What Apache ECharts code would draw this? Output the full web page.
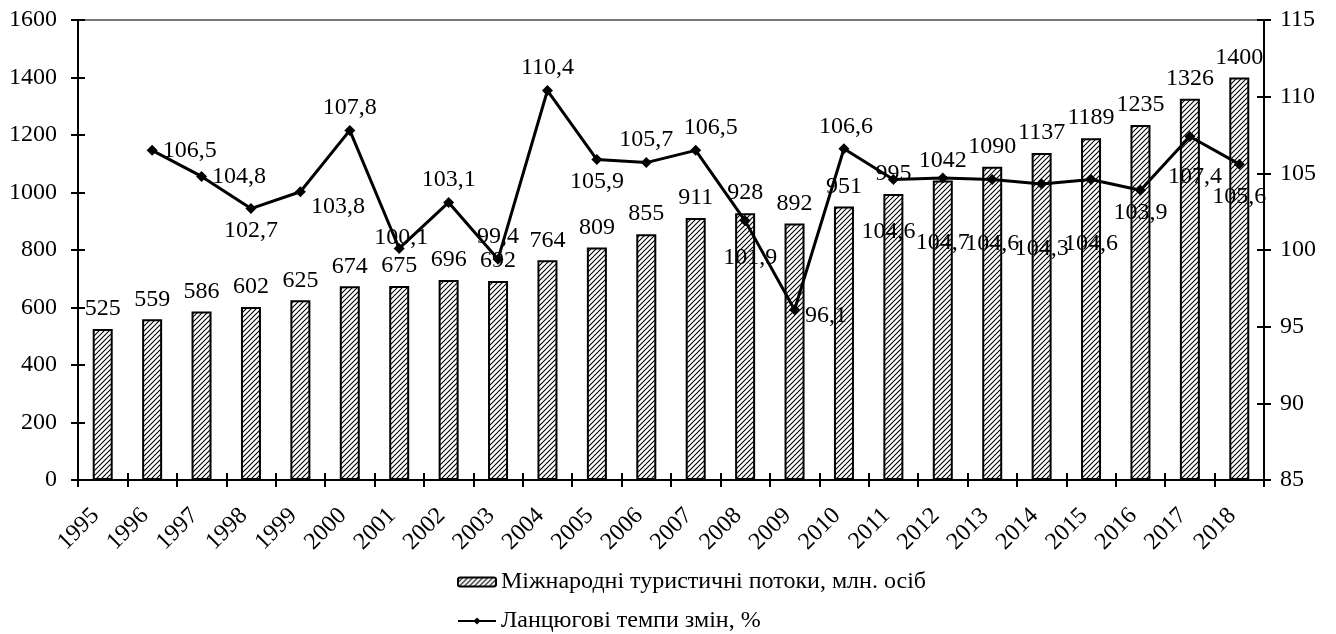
<!DOCTYPE html>
<html>
<head>
<meta charset="utf-8">
<script src="https://cdn.jsdelivr.net/npm/echarts@6/dist/echarts.min.js"></script>
<style>
  html, body { margin: 0; padding: 0; background: #fff; }
  #chart { width: 1336px; height: 634px; }
</style>
</head>
<body>
<div id="chart"></div>
<script>
const years = ['1995','1996','1997','1998','1999','2000','2001','2002','2003','2004','2005','2006',
  '2007','2008','2009','2010','2011','2012','2013','2014','2015','2016','2017','2018'];
const flows = [525, 559, 586, 602, 625, 674, 675, 696, 692, 764, 809, 855,
  911, 928, 892, 951, 995, 1042, 1090, 1137, 1189, 1235, 1326, 1400];
const chainRates = [null, 106.5, 104.8, 102.7, 103.8, 107.8, 100.1, 103.1, 99.4, 110.4, 105.9, 105.7,
  106.5, 101.9, 96.1, 106.6, 104.6, 104.7, 104.6, 104.3, 104.6, 103.9, 107.4, 105.6];
const leftTicks = { min: 0, max: 1600, interval: 200 };
const rightTicks = { min: 85, max: 115, interval: 5 };
const barName = 'Міжнародні туристичні потоки, млн. осіб';
const lineName = 'Ланцюгові темпи змін, %';

// where each rate label sits relative to its point (Excel put them by hand)
const rateLabelPlace = [null,
  ['right', [0, 0]], ['right', [0, 0]], ['bottom', [0, 0]], ['right', [0, 15]], ['top', [0, 0]],
  ['inside', [2, -11]], ['top', [0, 0]], ['top', [0, 0]], ['top', [0, 0]], ['bottom', [0, 0]],
  ['top', [0, 0]], ['top', [15, 0]], ['bottom', [5, 14]], ['right', [0, 6]], ['top', [2, 0]],
  ['bottom', [-5, 30]], ['bottom', [0, 42]], ['bottom', [0, 42]], ['bottom', [0, 42]],
  ['bottom', [0, 42]], ['bottom', [0, 0]], ['bottom', [5, 18]], ['bottom', [0, 10]]];

const FONT = 'Liberation Serif';
const FS = 24;

function hatch() {
  const s = 5;
  const c = document.createElement('canvas');
  c.width = s; c.height = s;
  const g = c.getContext('2d');
  g.fillStyle = '#fff';
  g.fillRect(0, 0, s, s);
  g.strokeStyle = '#000';
  g.lineWidth = 1.1;
  g.beginPath();
  g.moveTo(0, s); g.lineTo(s, 0);
  g.moveTo(-1, 1); g.lineTo(1, -1);
  g.moveTo(s - 1, s + 1); g.lineTo(s + 1, s - 1);
  g.stroke();
  return c;
}

const fmt = v => v.toFixed(1).replace('.', ',');

const lineData = chainRates.map((v, i) => {
  if (v == null) return '-';
  const p = rateLabelPlace[i];
  return { value: v, label: { position: p[0], offset: p[1] } };
});

const chart = echarts.init(document.getElementById('chart'));
const txt = { fontFamily: FONT, fontSize: FS, color: '#000' };

chart.setOption({
  animation: false,
  textStyle: { fontFamily: FONT },
  grid: { left: 78, right: 72, top: 20, bottom: 154 },
  legend: {
    orient: 'vertical',
    left: 457,
    top: 570,
    padding: 0,
    itemGap: 15,
    itemWidth: 38,
    itemHeight: 9,
    textStyle: { fontFamily: FONT, fontSize: FS, color: '#000', lineHeight: 24 },
    data: [barName, lineName]
  },
  xAxis: [
    {
      type: 'category', data: years, position: 'bottom',
      axisLine: { lineStyle: { color: '#000', width: 2 } },
      axisTick: { show: true, inside: false, length: 7, lineStyle: { color: '#000', width: 2 } },
      axisLabel: { ...txt, rotate: 45, margin: 25, interval: 0, padding: [0, 10, 0, 0] },
      splitLine: { show: false }
    },
    {
      type: 'category', data: years, position: 'bottom',
      axisLine: { show: false },
      axisTick: { show: true, inside: true, length: 7, lineStyle: { color: '#000', width: 2 } },
      axisLabel: { show: false },
      splitLine: { show: false }
    },
    {
      type: 'category', data: years, position: 'top',
      axisLine: { lineStyle: { color: '#777', width: 2 } },
      axisTick: { show: false },
      axisLabel: { show: false },
      splitLine: { show: false }
    }
  ],
  yAxis: [
    {
      type: 'value', position: 'left', ...leftTicks,
      axisLine: { show: true, lineStyle: { color: '#000', width: 2 } },
      axisTick: { show: true, length: 7, lineStyle: { color: '#000', width: 2 } },
      axisLabel: { ...txt, margin: 21, formatter: v => String(v) },
      splitLine: { show: false }
    },
    {
      type: 'value', position: 'right', ...rightTicks,
      axisLine: { show: true, lineStyle: { color: '#000', width: 2 } },
      axisTick: { show: true, length: 7, lineStyle: { color: '#000', width: 2 } },
      axisLabel: { ...txt, margin: 16, formatter: v => String(v) },
      splitLine: { show: false }
    },
    {
      type: 'value', position: 'left', ...leftTicks,
      axisLine: { show: false },
      axisTick: { show: true, inside: true, length: 7, lineStyle: { color: '#000', width: 2 } },
      axisLabel: { show: false },
      splitLine: { show: false }
    },
    {
      type: 'value', position: 'right', ...rightTicks,
      axisLine: { show: false },
      axisTick: { show: true, inside: true, length: 7, lineStyle: { color: '#000', width: 2 } },
      axisLabel: { show: false },
      splitLine: { show: false }
    }
  ],
  series: [
    {
      name: barName,
      type: 'bar',
      xAxisIndex: 0,
      yAxisIndex: 0,
      barWidth: 20,
      data: flows,
      itemStyle: {
        color: { image: hatch(), repeat: 'repeat' },
        borderColor: '#000',
        borderWidth: 2
      },
      label: { show: true, position: 'top', distance: 8, ...txt }
    },
    {
      name: lineName,
      type: 'line',
      xAxisIndex: 0,
      yAxisIndex: 1,
      data: lineData,
      connectNulls: false,
      symbol: 'diamond',
      symbolSize: 11,
      lineStyle: { color: '#000', width: 3 },
      itemStyle: { color: '#000' },
      label: {
        show: true, distance: 5, ...txt,
        formatter: p => fmt(p.value)
      },
      z: 3
    }
  ]
});
</script>
</body>
</html>
